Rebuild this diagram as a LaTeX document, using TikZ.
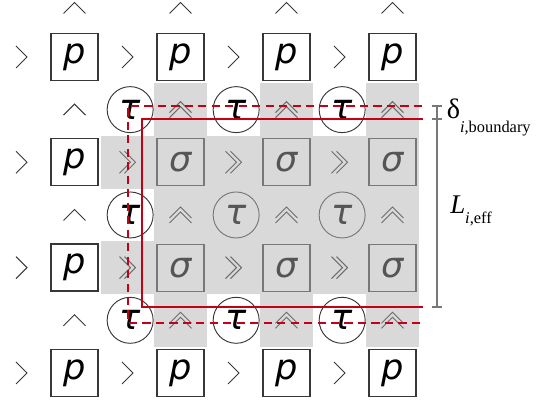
\documentclass[tikz,border=0pt]{standalone}
\usepackage{fontspec}
\setmainfont{Liberation Serif}
\newfontfamily\glyphfont{DejaVu Sans}
\usepackage{xcolor}
\usepackage{tikz}

\definecolor{cellgray}{RGB}{217,217,217}
\definecolor{edgegray}{RGB}{120,120,120}
\definecolor{softtext}{RGB}{85,85,85}
\definecolor{darkedge}{RGB}{55,55,55}
\definecolor{boxred}{RGB}{196,0,22}

\tikzset{
  pbox/.style={draw=darkedge, line width=1.1pt, fill=white, minimum size=1.41cm, inner sep=0pt, font=\glyphfont\itshape\fontsize{30}{30}\selectfont},
  sbox/.style={draw=edgegray, line width=1pt, fill=cellgray, text=softtext, minimum size=1.41cm, inner sep=0pt, font=\glyphfont\itshape\fontsize{30}{30}\selectfont},
  tnode/.style={circle, draw=darkedge, line width=0.8pt, minimum size=1.38cm, inner sep=0pt, font=\glyphfont\itshape\fontsize{30}{30}\selectfont},
  tsoft/.style={tnode, draw=edgegray, text=softtext},
  chev/.pic={\draw[darkedge, line width=0.8pt] (-0.165cm,0.33cm) -- (0.165cm,0cm) -- (-0.165cm,-0.33cm);},
  dchev/.pic={\draw[edgegray!90!black, line width=0.8pt] (-0.24cm,0.33cm) -- (0.09cm,0cm) -- (-0.24cm,-0.33cm)
      (-0.09cm,0.33cm) -- (0.24cm,0cm) -- (-0.09cm,-0.33cm);},
  cell/.style={fill=cellgray}
}

\begin{document}
\begin{tikzpicture}[x=1.59cm, y=1.58cm]
\useasboundingbox (-0.4057,0.0816) rectangle (9.745,-7.513);
\foreach \c/\r in {3/2,5/2,7/2,3/4,4/4,5/4,6/4,7/4,3/6,5/6,7/6}
  \fill[cell] (\c-0.5,-\r-0.5) rectangle (\c+0.5,-\r+0.5);
\foreach \r in {3,5} \foreach \c in {2,...,7}
  \fill[cell] (\c-0.5,-\r-0.5) rectangle (\c+0.5,-\r+0.5);
\foreach \c in {1,3,5,7} \pic[rotate=90] at (\c,-0.07) {chev};
\foreach \r in {1,7} {
  \foreach \c in {0,2,4,6} \pic at (\c,-\r) {chev};
  \foreach \c in {1,3,5,7} \node[pbox] (p\c\r) at (\c,-\r) {p};
}
\foreach \r in {3,5} {
  \pic at (0,-\r) {chev};
  \node[pbox] (p1\r) at (1,-\r) {p};
  \foreach \c in {2,4,6} \pic at (\c,-\r) {dchev};
  \foreach \c in {3,5,7} \node[sbox] (s\c\r) at (\c,-\r) {σ};
}
\foreach \r in {2,4,6} {
  \pic[rotate=90] at (1,-\r) {chev};
  \foreach \c in {3,5,7} \pic[rotate=90] at (\c,-\r) {dchev};
}
\foreach \c/\r in {2/2,4/2,6/2,2/4,2/6,4/6,6/6}
  \node[tnode] (t\c\r) at (\c+0.05,-\r) {τ};
\foreach \c/\r in {4/4,6/4}
  \node[tsoft] (t\c\r) at (\c+0.05,-\r) {τ};
\draw[boxred, line width=2.1pt, dash pattern=on 7pt off 4.5pt] (7.557,-1.931) -- (2.009,-1.931) -- (2.009,-6.051) -- (7.557,-6.051);
\draw[boxred, line width=2.5pt] (7.575,-2.178) -- (2.274,-2.178) -- (2.274,-5.747) -- (7.575,-5.747);
\draw[edgegray, line width=1pt] (7.84,-1.931) -- (7.84,-5.747);
\foreach \y in {-1.931,-2.178,-5.747}
  \draw[edgegray, line width=1pt] (7.745,\y) -- (7.935,\y);
\node[anchor=base west, inner sep=0pt, font=\fontsize{24}{24}\selectfont] (delta) at (8.02,-2.16)
  {δ\raisebox{-12.5pt}{\fontsize{14}{14}\selectfont\textit{i},boundary}};
\node[anchor=base west, inner sep=0pt, font=\fontsize{23}{23}\selectfont] (leff) at (8.085,-3.963)
  {\textit{L}\raisebox{-9pt}{\fontsize{14}{14}\selectfont\textit{i},eff}};
\end{tikzpicture}
\end{document}
